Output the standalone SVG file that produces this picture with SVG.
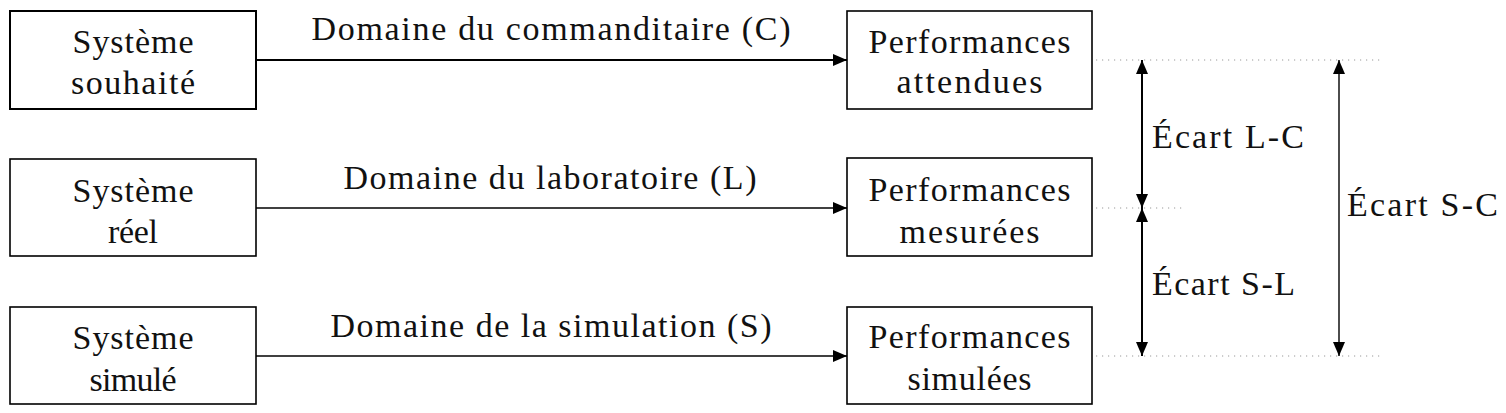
<svg xmlns="http://www.w3.org/2000/svg" width="1506" height="413" viewBox="0 0 1506 413">
<style>
.t{font-family:'Liberation Serif','Times New Roman',serif;font-size:34px;fill:#111;}
.box{fill:#fff;stroke:#000;stroke-width:1.6;}
.bold{stroke-width:2;}
.c{text-anchor:middle;}
.conn{stroke:#000;fill:none;stroke-width:1.4;}
.thick{stroke-width:2;}
.dot{stroke:#999;stroke-width:1;stroke-dasharray:1.2 4.8;fill:none;}
</style>
<defs>
<marker id="ah" markerUnits="userSpaceOnUse" markerWidth="14" markerHeight="12" viewBox="0 0 14 12" refX="14" refY="6" orient="auto-start-reverse">
<path d="M0,0 L14,6 L0,12 z" fill="#000"/>
</marker>
</defs>
<g id="n-souhaite">
<rect class="box bold" x="10" y="11" width="246" height="98"/>
<text class="t c" x="133" y="53" textLength="121">Système</text>
<text class="t c" x="133" y="94" textLength="124">souhaité</text>
</g>
<g id="n-reel">
<rect class="box" x="10" y="159" width="246" height="97"/>
<text class="t c" x="133" y="202" textLength="121">Système</text>
<text class="t c" x="133" y="243" textLength="50">réel</text>
</g>
<g id="n-simule">
<rect class="box" x="10" y="307" width="246" height="97"/>
<text class="t c" x="133" y="349" textLength="121">Système</text>
<text class="t c" x="133" y="391" textLength="87">simulé</text>
</g>
<g id="n-attendues">
<rect class="box" x="847" y="11" width="245" height="98"/>
<text class="t c" x="969.5" y="53" textLength="202">Performances</text>
<text class="t c" x="969.5" y="93" textLength="146">attendues</text>
</g>
<g id="n-mesurees">
<rect class="box" x="847" y="158" width="245" height="98"/>
<text class="t c" x="969.5" y="201" textLength="202">Performances</text>
<text class="t c" x="969.5" y="243" textLength="140">mesurées</text>
</g>
<g id="n-simulees">
<rect class="box" x="847" y="307" width="245" height="97"/>
<text class="t c" x="969.5" y="348" textLength="202">Performances</text>
<text class="t c" x="969.5" y="390" textLength="124">simulées</text>
</g>
<g id="connectors">
<line class="conn thick" x1="256" y1="60" x2="847" y2="60" marker-end="url(#ah)"/>
<line class="conn" x1="256" y1="208" x2="847" y2="208" marker-end="url(#ah)"/>
<line class="conn" x1="256" y1="356" x2="847" y2="356" marker-end="url(#ah)"/>
<text class="t c" x="551" y="40" textLength="479">Domaine du commanditaire (C)</text>
<text class="t c" x="550" y="189" textLength="413">Domaine du laboratoire (L)</text>
<text class="t c" x="551" y="337" textLength="441">Domaine de la simulation (S)</text>
<line class="dot" x1="1096" y1="60" x2="1384" y2="60"/>
<line class="dot" x1="1096" y1="208" x2="1186" y2="208"/>
<line class="dot" x1="1096" y1="356" x2="1384" y2="356"/>
<line class="conn thick" x1="1142" y1="60" x2="1142" y2="208" marker-start="url(#ah)" marker-end="url(#ah)"/>
<line class="conn thick" x1="1142" y1="208" x2="1142" y2="356" marker-start="url(#ah)" marker-end="url(#ah)"/>
<line class="conn" x1="1339" y1="60" x2="1339" y2="356" marker-start="url(#ah)" marker-end="url(#ah)"/>
<text class="t" x="1152" y="148" textLength="152">Écart L-C</text>
<text class="t" x="1152" y="295" textLength="143">Écart S-L</text>
<text class="t" x="1347" y="216" textLength="151">Écart S-C</text>
</g>
</svg>
